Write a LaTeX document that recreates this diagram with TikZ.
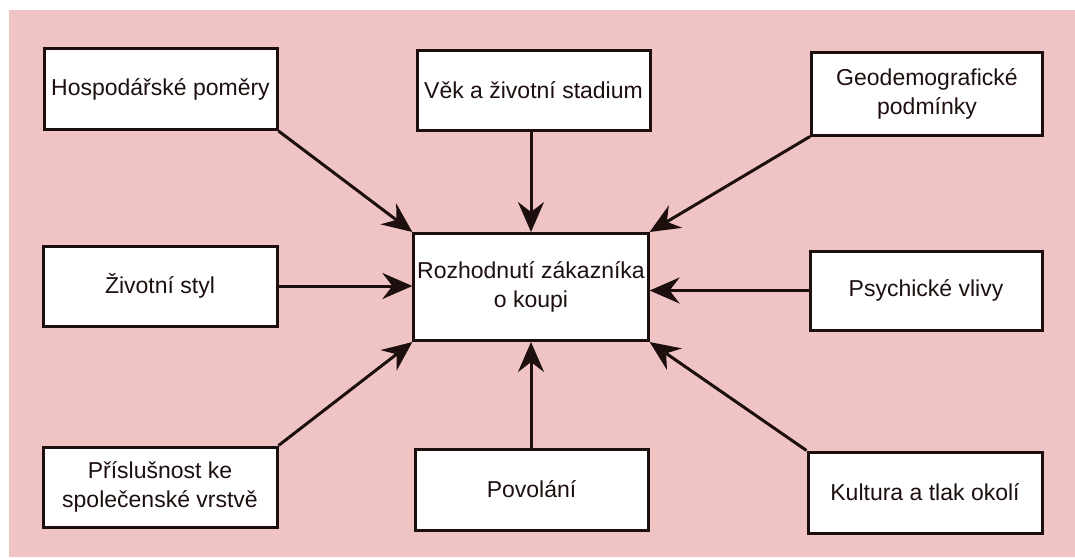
\documentclass[tikz,border=0pt]{standalone}
\usepackage{fontspec}
\setmainfont{Liberation Sans}
\usetikzlibrary{arrows.meta}
\definecolor{bgpink}{RGB}{240,196,196}
\definecolor{ink}{RGB}{30,15,15}
\begin{document}
\begin{tikzpicture}[x=1pt,y=-1pt,
  box/.style={draw=ink, line width=3pt, fill=white, align=center, font=\fontsize{23}{29}\selectfont, text=ink},
  conn/.style={draw=ink, line width=3pt, -{Stealth[length=30pt,width=26pt,inset=10pt]}}]
\useasboundingbox (0,0) rectangle (1075,557);
\fill[white] (0,0) rectangle (1075,557);
\fill[bgpink] (9,10) rectangle (1075,557);
% boxes
\node[box, minimum width=233pt, minimum height=81pt] (hp) at (160.5,89) {Hospodářské poměry};
\node[box, minimum width=233pt, minimum height=80pt] (vek) at (533.5,90) {Věk a životní stadium};
\node[box, minimum width=231pt, minimum height=83pt] (geo) at (927,93.5) {Geodemografické\\podmínky};
\node[box, minimum width=234pt, minimum height=80pt] (zs) at (160,286) {Životní styl};
\node[box, minimum width=232pt, minimum height=107pt] (c) at (531,287) {Rozhodnutí zákazníka\\o koupi};
\node[box, minimum width=232pt, minimum height=79pt] (ps) at (926,290.5) {Psychické vlivy};
\node[box, minimum width=234pt, minimum height=80pt] (pr) at (160,487) {Příslušnost ke\\společenské vrstvě};
\node[box, minimum width=233pt, minimum height=81pt] (pov) at (531.5,489.5) {Povolání};
\node[box, minimum width=234pt, minimum height=81pt] (ku) at (925,492.5) {Kultura a tlak okolí};
% connectors
\draw[conn] (hp.south east) -- (c.north west);
\draw[conn] (vek.south -| c.north) -- (c.north);
\draw[conn] (geo.south west) -- (c.north east);
\draw[conn] (zs.east) -- (zs.east -| c.west);
\draw[conn] (ps.west) -- (ps.west -| c.east);
\draw[conn] (pr.north east) -- (c.south west);
\draw[conn] (pov.north -| c.south) -- (c.south);
\draw[conn] (ku.north west) -- (c.south east);
\end{tikzpicture}
\end{document}
